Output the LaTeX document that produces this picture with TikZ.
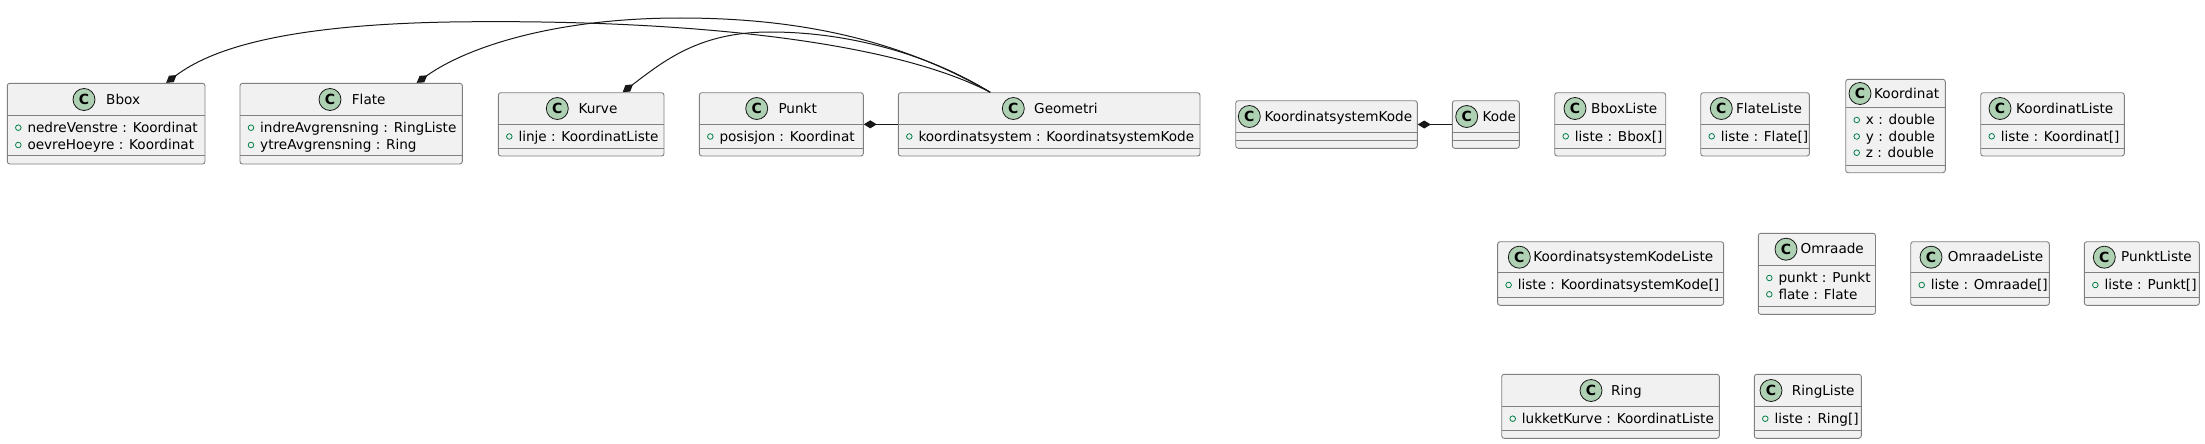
\documentclass[tikz,border=0pt]{standalone}
\usepackage{fontspec}
\setmainfont{DejaVu Sans}
\usetikzlibrary{arrows.meta,fit}
\definecolor{boxfill}{HTML}{F1F1F1}
\definecolor{boxline}{HTML}{808080}
\definecolor{circfill}{HTML}{ADD1B2}
\definecolor{markgreen}{HTML}{038048}
\definecolor{ink}{HTML}{181818}
\tikzset{
  clsbox/.style={draw=boxline, fill=boxfill, line width=0.9pt, rounded corners=2.5pt, inner sep=0pt, rectangle},
  sepline/.style={draw=boxline, line width=0.9pt},
  circ/.style={circle, draw=ink, fill=circfill, line width=0.8pt, minimum size=22pt, inner sep=0pt, font=\fontsize{14}{14}\selectfont\bfseries},
  ttl/.style={anchor=west, inner sep=0pt, text height=10pt, text depth=0.5pt, font=\fontsize{13.6}{16}\selectfont},
  attr/.style={ttl},
  marker/.style={circle, draw=markgreen, line width=0.8pt, minimum size=5.6pt, inner sep=0pt},
  conn/.style={draw=ink, line width=1pt},
  comp/.style={arrows={Diamond[length=13pt,width=8pt]-}}
}
\newcommand\umlbox[7]{%
  \node[clsbox, fit={(#2,#3) (#4,#5)}] (#1) {};
  \draw[sepline] (#2,#6) -- (#4,#6);
  \draw[sepline] (#2,#7) -- (#4,#7);
}
\newcommand\umlhead[5]{%
  \node[circ] (#1-c) at (#2,#4) {C};
  \node[ttl] (#1-t) at (#3,#4) {#5};
}
\newcommand\umlattr[4]{%
  \node[marker] (#1-m) at (#2+11,#3) {};
  \node[attr] (#1) at (#2+20,#3) {#4};
}
\begin{document}
\begin{tikzpicture}[x=1pt,y=-1pt]
\fill[white] (0,0) rectangle (2205,444);
\useasboundingbox (0,0) rectangle (2205,444);

% Bbox
\umlbox{bbox}{7.3}{83.3}{205}{164}{115.7}{155.3}
\umlhead{bbox}{84}{106}{99.5}{Bbox}
\umlattr{bbox-a1}{7.3}{127.7}{nedreVenstre : Koordinat}
\umlattr{bbox-a2}{7.3}{145}{oevreHoeyre : Koordinat}

% Flate
\umlbox{flate}{240}{83.3}{462.3}{164}{115.7}{155.3}
\umlhead{flate}{330}{351.7}{99.5}{Flate}
\umlattr{flate-a1}{240}{127.7}{indreAvgrensning : RingListe}
\umlattr{flate-a2}{240}{145}{ytreAvgrensning : Ring}

% Kurve
\umlbox{kurve}{498.3}{92.7}{664}{156}{124.3}{148.7}
\umlhead{kurve}{557.3}{578.3}{108.5}{Kurve}
\umlattr{kurve-a1}{498.3}{136.5}{linje : KoordinatListe}

% Punkt
\umlbox{punkt}{699.3}{92.7}{863.3}{156}{124.3}{148.7}
\umlhead{punkt}{756.7}{778.3}{108.5}{Punkt}
\umlattr{punkt-a1}{699.3}{136.5}{posisjon : Koordinat}

% Geometri
\umlbox{geometri}{898.3}{92.7}{1200}{156}{124.3}{148.7}
\umlhead{geometri}{1013.3}{1034}{108.5}{Geometri}
\umlattr{geometri-a1}{898.3}{136.5}{koordinatsystem : KoordinatsystemKode}

% KoordinatsystemKode
\umlbox{ksk}{1235.7}{100.7}{1417.3}{148.3}{132.3}{140.3}
\umlhead{ksk}{1249.3}{1264.3}{116.5}{KoordinatsystemKode}

% Kode
\umlbox{kode}{1452.3}{100.7}{1519.3}{148.3}{132.3}{140.3}
\umlhead{kode}{1466.7}{1482.3}{116.5}{Kode}

% BboxListe
\umlbox{bboxliste}{1554.7}{92.7}{1665.7}{156}{124.3}{148.3}
\umlhead{bboxliste}{1575}{1591}{108.5}{BboxListe}
\umlattr{bboxliste-a1}{1554.7}{136.3}{liste : Bbox[]}

% FlateListe
\umlbox{flateliste}{1700.7}{92.7}{1809.4}{156}{124.3}{148.3}
\umlhead{flateliste}{1721.3}{1735.9}{108.5}{FlateListe}
\umlattr{flateliste-a1}{1700.7}{136.3}{liste : Flate[]}

% Koordinat
\umlbox{koordinat}{1845.7}{79.3}{1945.3}{172.7}{107.7}{165.3}
\umlhead{koordinat}{1860}{1874}{93.5}{Koordinat}
\umlattr{koordinat-a1}{1845.7}{120}{x : double}
\umlattr{koordinat-a2}{1845.7}{136.5}{y : double}
\umlattr{koordinat-a3}{1845.7}{152.7}{z : double}

% KoordinatListe
\umlbox{koordinatliste}{1980.7}{92.7}{2124.3}{156}{124.3}{148.3}
\umlhead{koordinatliste}{2000}{2016}{108.5}{KoordinatListe}
\umlattr{koordinatliste-a1}{1980.7}{136.3}{liste : Koordinat[]}

% KoordinatsystemKodeListe
\umlbox{kskliste}{1497.6}{241.7}{1723.6}{305.3}{272.7}{297.3}
\umlhead{kskliste}{1519.3}{1533.2}{257.2}{KoordinatsystemKodeListe}
\umlattr{kskliste-a1}{1497.6}{285}{liste : KoordinatsystemKode[]}

% Omraade
\umlbox{omraade}{1758.3}{233.3}{1875.5}{314.3}{265}{306}
\umlhead{omraade}{1786}{1800.4}{249.2}{Omraade}
\umlattr{omraade-a1}{1758.3}{278}{punkt : Punkt}
\umlattr{omraade-a2}{1758.3}{294.3}{flate : Flate}

% OmraadeListe
\umlbox{omraadeliste}{1910.7}{241.7}{2049.3}{305.3}{272.7}{297.3}
\umlhead{omraadeliste}{1931}{1947.7}{257.2}{OmraadeListe}
\umlattr{omraadeliste-a1}{1910.7}{285}{liste : Omraade[]}

% PunktListe
\umlbox{punktliste}{2084.3}{241.7}{2199.3}{305.3}{272.7}{297.3}
\umlhead{punktliste}{2104.3}{2121}{257.2}{PunktListe}
\umlattr{punktliste-a1}{2084.3}{285}{liste : Punkt[]}

% Ring
\umlbox{ring}{1501.7}{374.3}{1719.3}{438.3}{406.7}{430.7}
\umlhead{ring}{1591}{1611}{390.5}{Ring}
\umlattr{ring-a1}{1501.7}{418.7}{lukketKurve : KoordinatListe}

% RingListe
\umlbox{ringliste}{1754.3}{374.3}{1861.3}{438.3}{406.7}{430.7}
\umlhead{ringliste}{1771}{1791.7}{390.5}{RingListe}
\umlattr{ringliste-a1}{1754.3}{418.7}{liste : Ring[]}

% connectors
\draw[conn, comp] (punkt.east) -- (geometri.west);
\draw[conn, comp] (ksk.east) -- (kode.west);
\draw[conn, comp] ([xshift=60pt]bbox.north) .. controls (210,50) and (280,25) .. (450,22)
  .. controls (650,19) and (880,35) .. ([xshift=-59pt]geometri.north);
\draw[conn, comp] ([xshift=65.5pt]flate.north) .. controls (470,45) and (560,18) .. (680,18)
  .. controls (800,18) and (900,40) .. ([xshift=-59pt]geometri.north);
\draw[conn, comp] ([xshift=41.5pt]kurve.north) .. controls (665,60) and (700,32) .. (770,32)
  .. controls (850,32) and (930,55) .. ([xshift=-59pt]geometri.north);
\end{tikzpicture}
\end{document}
